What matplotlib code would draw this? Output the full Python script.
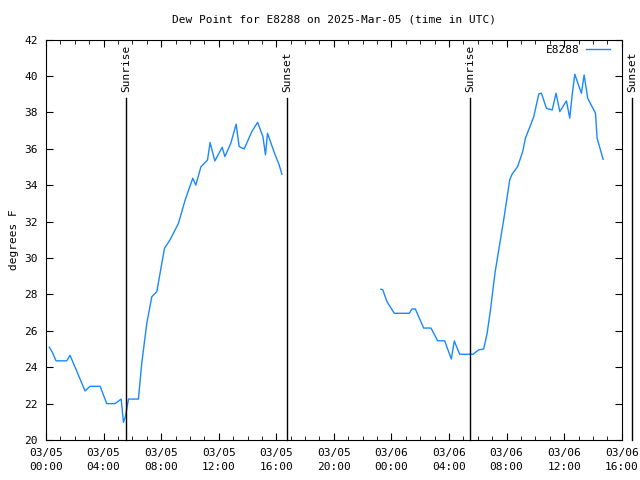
import numpy as np
import pandas as pd
import matplotlib
matplotlib.use("Agg")
from matplotlib import pyplot as plt
import matplotlib.dates as mdates
from matplotlib.transforms import blended_transform_factory

plt.rcParams['font.family'] = ['DejaVu Sans Mono']

start = pd.Timestamp('2025-03-05 00:00')

# hours since 2025-03-05 00:00 UTC; NaN marks the data gap
hours = [0.23, 0.45, 0.7, 1.44, 1.67, 2.18, 2.71, 3.06, 3.76, 4.22, 4.8, 5.22,
         5.38, 5.52, 5.73, 6.42, 6.65, 7.0, 7.35, 7.7, 8.23, 8.62, 9.2, 9.67,
         10.2, 10.41, 10.76, 11.22, 11.4, 11.73, 12.24, 12.43, 12.84, 13.21,
         13.42, 13.77, 14.3, 14.7, 15.07, 15.25, 15.39, 15.86, 16.2, 16.39,
         20.0,
         23.27, 23.4, 23.69, 24.2, 25.24, 25.43, 25.66, 26.24, 26.75, 27.21,
         27.7, 28.16, 28.37, 28.74, 29.67, 30.06, 30.41, 30.65, 30.88, 31.2,
         31.8, 32.22, 32.38, 32.77, 33.12, 33.31, 33.61, 33.89, 34.24, 34.42,
         34.77, 35.17, 35.44, 35.7, 36.16, 36.39, 36.56, 36.74, 37.2, 37.39,
         37.64, 38.18, 38.29, 38.71]
dewpoint = [25.1, 24.8, 24.35, 24.35, 24.65, 23.7, 22.7, 22.95, 22.95, 22.0,
            22.0, 22.25, 20.97, 21.3, 22.25, 22.25, 24.2, 26.4, 27.87, 28.15,
            30.53, 31.0, 31.9, 33.19, 34.38, 34.0, 35.0, 35.38, 36.34, 35.33,
            36.08, 35.57, 36.3, 37.35, 36.12, 35.99, 36.94, 37.45, 36.67,
            35.66, 36.85, 35.79, 35.11, 34.6,
            np.nan,
            28.28, 28.25, 27.6, 26.96, 26.96, 27.2, 27.2, 26.15, 26.15, 25.45,
            25.45, 24.45, 25.44, 24.71, 24.71, 24.95, 25.0, 25.86, 27.14,
            29.2, 32.09, 34.29, 34.6, 35.02, 35.84, 36.58, 37.18, 37.76,
            39.01, 39.05, 38.22, 38.13, 39.05, 38.04, 38.63, 37.68, 38.96,
            40.09, 39.05, 40.05, 38.77, 37.95, 36.58, 35.42]

sun_labels = ['Sunrise', 'Sunset', 'Sunrise', 'Sunset']
sun_hours = [5.56, 16.76, 29.49, 40.75]

times = [start + pd.Timedelta(hours=h) for h in hours]
sun_times = [start + pd.Timedelta(hours=h) for h in sun_hours]

fig = plt.figure(figsize=(6.4, 4.8), dpi=100)
ax = fig.add_axes([0.0719, 0.0833, 0.8995, 0.8344])

ax.plot(times, dewpoint, color='#1a88ff', linewidth=1.0, label='E8288')

trans = blended_transform_factory(ax.transData, ax.transAxes)
for t, lab in zip(sun_times, sun_labels):
    ax.plot([t, t], [0, 0.854], color='black', linewidth=1.0,
            transform=trans, clip_on=False)
    ax.text(t, 0.868, lab, rotation=90, ha='center', va='bottom',
            transform=trans, fontsize=8)

ax.set_xlim(start, start + pd.Timedelta(hours=40))
ax.set_ylim(20, 42)
ax.set_yticks(np.arange(20, 43, 2))
ax.xaxis.set_major_locator(mdates.HourLocator(byhour=range(0, 24, 4)))
ax.xaxis.set_minor_locator(mdates.HourLocator())
ax.xaxis.set_major_formatter(mdates.DateFormatter('%m/%d\n%H:%M'))

ax.tick_params(which='both', direction='in', top=True, right=True,
               labelsize=8, pad=6)
ax.tick_params(which='major', length=5)
ax.tick_params(which='minor', length=3)
for lbl in ax.get_xticklabels():
    lbl.set_linespacing(1.5)

ax.set_title('Dew Point for E8288 on 2025-Mar-05 (time in UTC)', fontsize=8, pad=12)
ax.set_ylabel('degrees F', fontsize=8)

ax.legend(loc='upper right', bbox_to_anchor=(0.99, 1.0), frameon=False,
          fontsize=8, handlelength=2.2, handletextpad=0.6, markerfirst=False,
          borderaxespad=0.1)

fig.savefig('out.png', dpi=100)
